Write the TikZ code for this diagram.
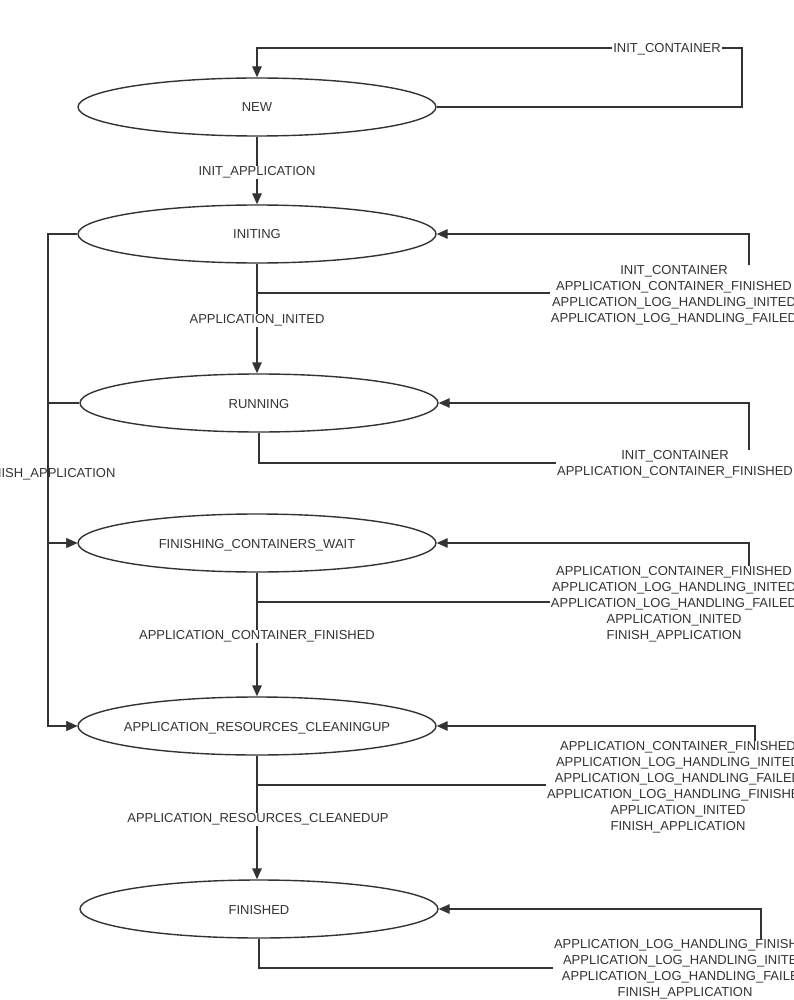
\documentclass[tikz,border=0pt]{standalone}
\usepackage{fontspec}
\setmainfont{Liberation Sans}
\usetikzlibrary{arrows.meta,shapes.geometric}
\definecolor{ink}{HTML}{333333}
% state names are set in a zero-size box so every ellipse keeps the same size
\newcommand\statetext[1]{\raisebox{-5pt}[0pt][0pt]{\makebox[0pt]{#1}}}
\begin{document}
\begin{tikzpicture}[x=1pt,y=-1pt,
  every node/.style={font=\fontsize{13}{16}\selectfont, text=ink},
  state/.style={ellipse, draw=ink, line width=1.4pt, fill=white,
    minimum width=358pt, minimum height=58pt, inner sep=0pt},
  wire/.style={draw=ink, line width=1.4pt},
  edge/.style={wire, -{Triangle[length=11pt,width=9.5pt]}},
  lbl/.style={fill=white, inner sep=1pt, align=center, yshift=-1.5pt}]
\useasboundingbox (0,0) rectangle (793,1000);
\clip (0,0) rectangle (793,1000);

% states
\node[state] (new)      at (257,107) {\statetext{NEW}};
\node[state] (initing)  at (257,234) {\statetext{INITING}};
\node[state] (running)  at (259,403) {\statetext{RUNNING}};
\node[state] (fcw)      at (257,543) {\statetext{FINISHING\_CONTAINERS\_WAIT}};
\node[state] (arc)      at (257,726) {\statetext{APPLICATION\_RESOURCES\_CLEANINGUP}};
\node[state] (finished) at (259,909) {\statetext{FINISHED}};

% turning points of the self transitions
\coordinate (newloop) at (742,48);
\coordinate (iniloop) at (749,293);
\coordinate (runloop) at (749,463);
\coordinate (fcwloop) at (749,602);
\coordinate (arcloop) at (755,785);
\coordinate (finloop) at (761,968);
% FINISH_APPLICATION bus on the left
\coordinate (busA) at (48,543);
\coordinate (busB) at (48,726);

% self transitions
\draw[edge] (new.east) -| (newloop) -| (new.north);
\draw[edge] (initing.south) |- (iniloop) |- (initing.east);
\draw[edge] (running.south) |- (runloop) |- (running.east);
\draw[edge] (fcw.south) |- (fcwloop) |- (fcw.east);
\draw[edge] (arc.south) |- (arcloop) |- (arc.east);
\draw[edge] (finished.south) |- (finloop) |- (finished.east);

% main transitions
\draw[edge] (new.south) -- (initing.north);
\draw[edge] (initing.south) -- (initing.south |- running.north);
\draw[edge] (fcw.south) -- (arc.north);
\draw[edge] (arc.south) -- (arc.south |- finished.north);

% labels
\node[lbl] (lnew) at (667,48) {INIT\_CONTAINER};
\node[lbl] (lia)  at (257,171) {INIT\_APPLICATION};
\node[lbl] (lai)  at (257,319) {APPLICATION\_INITED};
\node[lbl] (lacf) at (257,635) {APPLICATION\_CONTAINER\_FINISHED};
\node[lbl] (larc) at (258,818) {APPLICATION\_RESOURCES\_CLEANEDUP};
\node[lbl] (lini) at (674,294) {INIT\_CONTAINER\\APPLICATION\_CONTAINER\_FINISHED\\APPLICATION\_LOG\_HANDLING\_INITED\\APPLICATION\_LOG\_HANDLING\_FAILED};
\node[lbl] (lrun) at (675,463) {INIT\_CONTAINER\\APPLICATION\_CONTAINER\_FINISHED};
\node[lbl] (lfcw) at (674,603) {APPLICATION\_CONTAINER\_FINISHED\\APPLICATION\_LOG\_HANDLING\_INITED\\APPLICATION\_LOG\_HANDLING\_FAILED\\APPLICATION\_INITED\\FINISH\_APPLICATION};
\node[lbl] (larcl) at (678,786) {APPLICATION\_CONTAINER\_FINISHED\\APPLICATION\_LOG\_HANDLING\_INITED\\APPLICATION\_LOG\_HANDLING\_FAILED\\APPLICATION\_LOG\_HANDLING\_FINISHED\\APPLICATION\_INITED\\FINISH\_APPLICATION};
\node[lbl] (lfin) at (685,968) {APPLICATION\_LOG\_HANDLING\_FINISHED\\APPLICATION\_LOG\_HANDLING\_INITED\\APPLICATION\_LOG\_HANDLING\_FAILED\\FINISH\_APPLICATION};
\node[lbl] (lfa)  at (48,473) {FINISH\_APPLICATION};

% FINISH_APPLICATION transitions, drawn over their label
\draw[edge] (initing.west) -| (busA) -- (fcw.west);
\draw[edge] (initing.west) -| (busB) -- (arc.west);
\draw[edge] (running.west) -| (busA) -- (fcw.west);
\draw[edge] (running.west) -| (busB) -- (arc.west);
\end{tikzpicture}
\end{document}
